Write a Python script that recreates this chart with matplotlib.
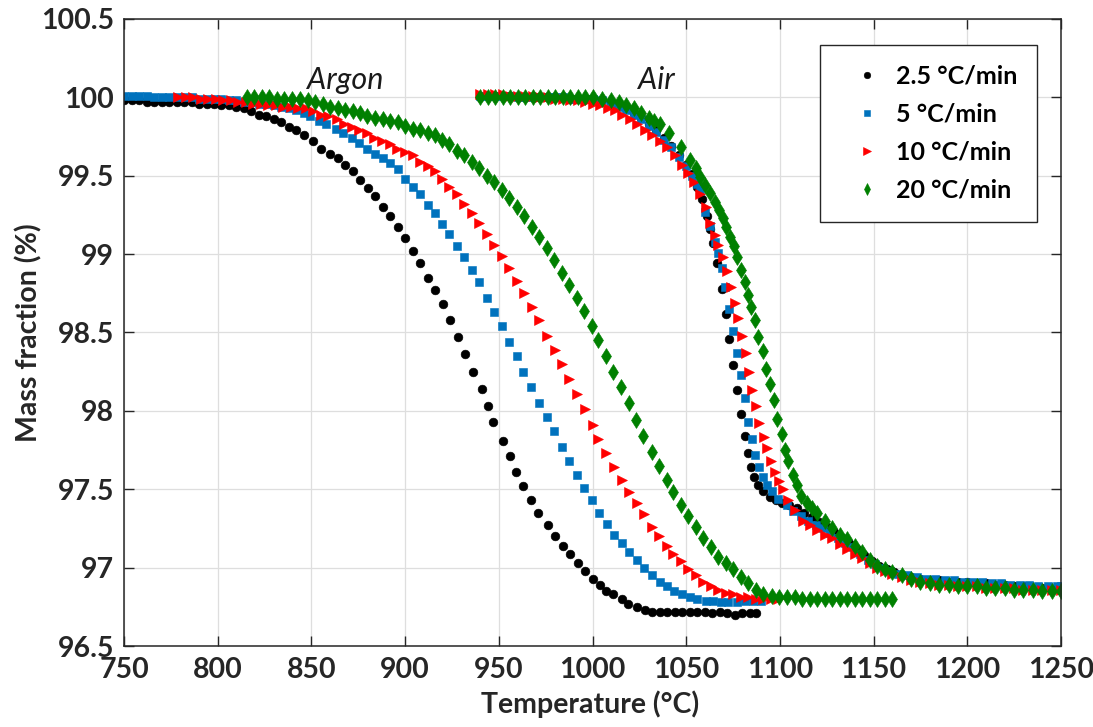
#============================================================
# PLOT.PY       -- TGA mass fraction, argon vs. air
#============================================================

import matplotlib
matplotlib.use('Agg')
import matplotlib.pyplot as plt

plt.rcParams['font.family'] = ['Lato', 'DejaVu Sans']

#------------------------------------------------------------
# Argon runs (temperature degC, mass fraction %)
ar_t_25 = [750, 754, 758, 762, 766, 770, 774, 778, 782, 786, 790, 794, 798, 802, 806,
           810, 814, 818, 822, 826, 830, 834, 838, 842, 846, 851, 855, 860, 864, 868,
           872, 876, 880, 884, 888, 892, 896, 900, 904, 908, 912, 916, 920, 924, 928,
           932, 936, 941, 944, 947, 952, 956, 959, 963, 967, 971, 976, 980, 984, 988,
           992, 996, 1000, 1004, 1007, 1011, 1016, 1019, 1024, 1028, 1032, 1036, 1040,
           1044, 1048, 1052, 1056, 1060, 1064, 1068, 1072, 1076, 1080, 1084, 1087]
ar_m_25 = [99.98, 99.98, 99.98, 99.97, 99.97, 99.97, 99.97, 99.97, 99.97, 99.97, 99.96,
           99.96, 99.96, 99.95, 99.95, 99.94, 99.93, 99.91, 99.89, 99.88, 99.86, 99.84,
           99.81, 99.79, 99.76, 99.72, 99.67, 99.64, 99.61, 99.57, 99.53, 99.47, 99.42,
           99.37, 99.30, 99.24, 99.17, 99.10, 99.02, 98.94, 98.85, 98.77, 98.68, 98.58,
           98.47, 98.36, 98.25, 98.14, 98.03, 97.93, 97.81, 97.71, 97.61, 97.52, 97.43,
           97.35, 97.27, 97.20, 97.14, 97.09, 97.03, 96.98, 96.93, 96.89, 96.85, 96.83,
           96.80, 96.77, 96.75, 96.73, 96.72, 96.72, 96.72, 96.72, 96.72, 96.72, 96.72,
           96.72, 96.71, 96.72, 96.71, 96.70, 96.71, 96.71, 96.71]

ar_t_5 = [750, 754, 758, 762, 766, 770, 774, 778, 782, 786, 790, 794, 798, 802, 806,
          810, 814, 818, 822, 826, 830, 834, 838, 842, 846, 849, 854, 858, 863, 867,
          871.5, 875.6, 879.5, 884, 888, 892, 896, 900, 904, 908, 912, 916, 919.5, 923.6,
          927.5, 931.4, 935.5, 939.6, 943.5, 947.6, 951.5, 955.6, 959.5, 963, 967, 971.5,
          975.5, 979.5, 983.6, 987.6, 991.6, 995.6, 999.9, 1003.5, 1007.6, 1011.5, 1015.6,
          1019.7, 1023.6, 1027.5, 1031.6, 1036, 1039.6, 1043.7, 1048, 1052, 1056, 1060.4,
          1064.5, 1068.4, 1072.5, 1077, 1081.4, 1085.8, 1090]
ar_m_5 = [100.01, 100.01, 100.01, 100.01, 100.00, 100.00, 100.00, 100.00, 100.00, 100.00,
          99.99, 99.99, 99.99, 99.99, 99.98, 99.98, 99.97, 99.97, 99.96, 99.96, 99.95,
          99.94, 99.93, 99.92, 99.90, 99.88, 99.85, 99.83, 99.80, 99.77, 99.74, 99.71,
          99.67, 99.64, 99.61, 99.58, 99.54, 99.48, 99.43, 99.38, 99.31, 99.26, 99.19,
          99.13, 99.05, 98.98, 98.90, 98.82, 98.72, 98.63, 98.54, 98.44, 98.35, 98.25,
          98.15, 98.05, 97.96, 97.87, 97.77, 97.68, 97.59, 97.51, 97.43, 97.35, 97.28,
          97.21, 97.16, 97.10, 97.05, 97.00, 96.95, 96.91, 96.88, 96.85, 96.83, 96.81,
          96.80, 96.79, 96.79, 96.78, 96.78, 96.78, 96.79, 96.79, 96.79]

ar_t_10 = [779, 783, 787, 791, 795, 799, 803, 807, 811, 815, 819, 823, 827, 831, 835,
           839, 843, 847, 851, 855, 859, 863.5, 867.4, 871.5, 875.6, 879.5, 883.4, 887.5,
           891.9, 895.5, 899.9, 904, 908, 912, 916, 919.5, 923.6, 927.5, 931.4, 935.5,
           939.6, 943.5, 947.6, 951.5, 955.6, 959.5, 963.6, 967.5, 971.6, 975.5, 980,
           983.6, 987.6, 991.9, 996, 1000, 1003, 1007, 1011.5, 1015.6, 1019.7, 1023.6,
           1027.5, 1031.6, 1035.7, 1039.6, 1043, 1047, 1051, 1055, 1059, 1063, 1067, 1071,
           1075, 1079, 1083, 1087, 1091, 1095, 1099]
ar_m_10 = [100.00, 100.00, 100.00, 99.99, 99.99, 99.99, 99.98, 99.98, 99.97, 99.97, 99.96,
           99.96, 99.95, 99.95, 99.94, 99.94, 99.93, 99.93, 99.91, 99.89, 99.88, 99.86,
           99.83, 99.81, 99.79, 99.77, 99.74, 99.72, 99.70, 99.67, 99.65, 99.63, 99.59,
           99.56, 99.53, 99.48, 99.43, 99.38, 99.32, 99.26, 99.20, 99.13, 99.06, 98.99,
           98.91, 98.83, 98.75, 98.66, 98.58, 98.48, 98.39, 98.30, 98.20, 98.11, 98.01,
           97.91, 97.82, 97.73, 97.64, 97.56, 97.48, 97.41, 97.34, 97.26, 97.20, 97.14,
           97.09, 97.04, 96.99, 96.95, 96.91, 96.88, 96.86, 96.84, 96.83, 96.81, 96.81,
           96.80, 96.80, 96.80, 96.80]

ar_t_20 = [815.5, 819.5, 823.5, 827.5, 831.5, 835.5, 839.5, 844, 848, 852, 856, 860, 864,
           868, 872, 876, 879.5, 884, 888, 892, 896, 900, 904, 908, 912, 916, 919.5,
           923.6, 927.5, 931.4, 935.5, 939.6, 943.5, 947.6, 951.5, 955.6, 959.5, 963.6,
           967.5, 971.6, 975.5, 979.4, 983.5, 987.6, 991.5, 995.4, 999.5, 1003.1, 1007.2,
           1011.1, 1015.2, 1019.5, 1023.2, 1027.1, 1031.6, 1035.7, 1039.6, 1043.1, 1047.2,
           1051.1, 1055.1, 1059.1, 1063.1, 1067.2, 1071.2, 1075.2, 1079.3, 1083.2, 1087.2,
           1091.2, 1095.6, 1099.7, 1103.6, 1108, 1112, 1116, 1120, 1124, 1128, 1132, 1136,
           1140, 1144, 1148, 1152, 1156, 1160]
ar_m_20 = [100.00, 100.00, 100.00, 100.00, 99.99, 99.99, 99.99, 99.99, 99.98, 99.97, 99.96,
           99.94, 99.93, 99.92, 99.91, 99.90, 99.88, 99.87, 99.86, 99.85, 99.84, 99.82,
           99.80, 99.79, 99.77, 99.76, 99.73, 99.70, 99.66, 99.63, 99.59, 99.55, 99.50,
           99.46, 99.41, 99.36, 99.30, 99.24, 99.17, 99.11, 99.04, 98.96, 98.88, 98.80,
           98.72, 98.64, 98.54, 98.45, 98.35, 98.25, 98.15, 98.05, 97.94, 97.84, 97.74,
           97.65, 97.56, 97.48, 97.40, 97.33, 97.26, 97.19, 97.13, 97.07, 97.03, 96.99,
           96.94, 96.90, 96.86, 96.83, 96.82, 96.81, 96.81, 96.81, 96.80, 96.80, 96.80,
           96.80, 96.80, 96.80, 96.80, 96.80, 96.80, 96.80, 96.80, 96.80, 96.80]

#------------------------------------------------------------
# Air runs
air_t_25 = [940, 944, 948, 952, 956, 960, 964, 968, 972, 976, 980, 984, 988, 992, 996,
            1000, 1005, 1010, 1014, 1018, 1022, 1026, 1030, 1034, 1038, 1042, 1046, 1050,
            1053, 1056, 1058.3, 1060.9, 1062.7, 1064.5, 1066.6, 1069, 1071.3, 1073,
            1075.2, 1077.3, 1079.2, 1081.4, 1082.8, 1084.4, 1086.2, 1088.5, 1091.2,
            1094.7, 1098, 1101, 1105, 1109, 1113, 1117, 1121, 1125, 1129, 1133, 1137,
            1141, 1145, 1149, 1153, 1157, 1161, 1165, 1170, 1175, 1180, 1185, 1190, 1195,
            1200, 1205, 1210, 1215, 1220, 1225, 1230, 1235, 1240, 1245, 1250]
air_m_25 = [100.00, 100.01, 100.01, 100.01, 100.01, 100.00, 100.00, 100.00, 100.00, 100.00,
            100.00, 100.00, 99.99, 99.99, 99.99, 99.99, 99.98, 99.97, 99.95, 99.93, 99.90,
            99.87, 99.83, 99.79, 99.74, 99.69, 99.63, 99.57, 99.51, 99.43, 99.35, 99.24,
            99.16, 99.07, 98.94, 98.78, 98.62, 98.46, 98.29, 98.13, 97.98, 97.84, 97.73,
            97.64, 97.58, 97.53, 97.49, 97.45, 97.43, 97.41, 97.40, 97.38, 97.35, 97.32,
            97.29, 97.26, 97.23, 97.19, 97.16, 97.12, 97.08, 97.04, 97.01, 96.99, 96.97,
            96.95, 96.94, 96.93, 96.92, 96.92, 96.91, 96.91, 96.91, 96.90, 96.90, 96.89,
            96.89, 96.88, 96.88, 96.87, 96.87, 96.86, 96.86]

air_t_5 = [940, 944, 948, 952, 956, 960, 964, 968, 972, 976, 980, 984, 988, 992, 996,
           1000, 1005, 1010, 1014, 1018, 1022, 1026, 1030, 1034, 1038, 1042, 1046, 1050,
           1053, 1055.5, 1057.4, 1060.1, 1062.7, 1065.4, 1067.2, 1069, 1070.7, 1072.9,
           1075, 1077.3, 1079.1, 1081.4, 1083.2, 1084.9, 1086.7, 1089, 1091.2, 1092.9,
           1095.6, 1099.2, 1103.6, 1107, 1111, 1115, 1119, 1123, 1127, 1131, 1135, 1139,
           1143, 1147, 1151, 1155, 1159, 1163, 1168, 1173, 1178, 1183, 1188, 1193, 1198,
           1203, 1208, 1213, 1218, 1223, 1228, 1233, 1238, 1243, 1248, 1250]
air_m_5 = [100.01, 100.01, 100.01, 100.01, 100.01, 100.00, 100.00, 100.00, 100.00, 100.00,
           100.00, 100.00, 99.99, 99.99, 99.99, 99.99, 99.98, 99.96, 99.94, 99.92, 99.89,
           99.86, 99.82, 99.78, 99.73, 99.68, 99.62, 99.56, 99.50, 99.45, 99.40, 99.27,
           99.18, 99.08, 99.01, 98.91, 98.79, 98.65, 98.51, 98.37, 98.23, 98.08, 97.93,
           97.82, 97.72, 97.64, 97.58, 97.53, 97.49, 97.44, 97.40, 97.36, 97.33, 97.30,
           97.27, 97.25, 97.22, 97.19, 97.16, 97.13, 97.09, 97.05, 97.02, 97.00, 96.98,
           96.96, 96.95, 96.94, 96.93, 96.93, 96.92, 96.92, 96.91, 96.91, 96.91, 96.90,
           96.90, 96.89, 96.89, 96.89, 96.88, 96.88, 96.88, 96.88]

air_t_10 = [940, 944, 948, 952, 956, 960, 964, 968, 972, 976, 980, 984, 988, 992, 996,
            1000, 1004, 1008, 1012, 1016, 1020, 1024, 1028, 1032, 1036, 1040, 1044, 1048,
            1051, 1054, 1057.4, 1060.6, 1062.7, 1065.4, 1067.2, 1069.8, 1071.6, 1073.9,
            1076.1, 1077.8, 1080, 1081.9, 1083.5, 1084.9, 1087.3, 1089, 1091.5, 1093.3,
            1095.1, 1097.4, 1099.7, 1101.8, 1104.5, 1108.1, 1112.5, 1116, 1120, 1124,
            1128, 1132, 1136, 1140, 1144, 1148, 1152, 1156, 1160, 1165, 1170, 1175, 1180,
            1185, 1190, 1195, 1200, 1205, 1210, 1215, 1220, 1225, 1230, 1235, 1240, 1245,
            1250]
air_m_10 = [100.02, 100.02, 100.02, 100.02, 100.01, 100.01, 100.01, 100.01, 100.00, 100.00,
            99.99, 99.99, 99.98, 99.98, 99.97, 99.96, 99.95, 99.93, 99.92, 99.89, 99.86,
            99.83, 99.79, 99.76, 99.72, 99.68, 99.63, 99.57, 99.52, 99.46, 99.38, 99.30,
            99.20, 99.12, 99.06, 98.98, 98.89, 98.79, 98.69, 98.59, 98.48, 98.37, 98.25,
            98.13, 98.03, 97.92, 97.83, 97.76, 97.68, 97.61, 97.55, 97.50, 97.43, 97.37,
            97.30, 97.27, 97.24, 97.21, 97.19, 97.15, 97.12, 97.09, 97.06, 97.03, 97.00,
            96.98, 96.96, 96.94, 96.92, 96.91, 96.90, 96.89, 96.89, 96.88, 96.88, 96.88,
            96.87, 96.87, 96.87, 96.87, 96.86, 96.86, 96.86, 96.86, 96.86]

air_t_20 = [940, 944, 948, 952, 956, 960, 964, 968, 972, 976, 980, 984, 988, 992, 996,
            1000, 1005, 1010, 1014, 1018, 1022, 1026, 1030, 1033, 1036, 1041, 1047, 1052,
            1055, 1057.3, 1060, 1062.7, 1065.3, 1067.7, 1069.4, 1071.2, 1073.4, 1075.5,
            1077.3, 1079.2, 1081.4, 1082.8, 1084.6, 1086.7, 1088.5, 1090.8, 1092.6,
            1094.7, 1096.9, 1098.6, 1100.9, 1102.7, 1104.5, 1106.8, 1109, 1111.1, 1114.3,
            1117, 1120, 1124, 1128, 1132, 1136, 1140, 1144, 1148, 1152, 1156, 1160, 1165,
            1170, 1175, 1180, 1185, 1190, 1195, 1200, 1205, 1210, 1215, 1220, 1225, 1230,
            1235, 1240, 1245, 1250]
air_m_20 = [100.00, 100.00, 100.00, 100.00, 100.00, 100.00, 100.00, 100.00, 100.00, 100.00,
            100.00, 100.00, 100.00, 100.00, 100.00, 100.00, 99.99, 99.98, 99.97, 99.95,
            99.93, 99.90, 99.87, 99.85, 99.83, 99.77, 99.68, 99.60, 99.55, 99.49, 99.44,
            99.39, 99.33, 99.28, 99.23, 99.17, 99.11, 99.05, 98.98, 98.90, 98.82, 98.74,
            98.66, 98.58, 98.47, 98.38, 98.27, 98.17, 98.07, 97.95, 97.85, 97.75, 97.68,
            97.59, 97.53, 97.46, 97.41, 97.38, 97.35, 97.30, 97.25, 97.21, 97.18, 97.14,
            97.10, 97.05, 97.01, 96.99, 96.97, 96.95, 96.93, 96.91, 96.90, 96.89, 96.89,
            96.88, 96.88, 96.88, 96.87, 96.87, 96.87, 96.86, 96.86, 96.86, 96.85, 96.85,
            96.85]

rate_labels = ['2.5 °C/min', '5 °C/min', '10 °C/min', '20 °C/min']
colors = ['#000000', '#0072BD', '#FF0000', '#008000']
markers = ['o', 's', '>', 'd']
msizes = [6.3, 5.8, 7.3, 7.8]

argon = [(ar_t_25, ar_m_25), (ar_t_5, ar_m_5), (ar_t_10, ar_m_10), (ar_t_20, ar_m_20)]
air = [(air_t_25, air_m_25), (air_t_5, air_m_5), (air_t_10, air_m_10), (air_t_20, air_m_20)]

#------------------------------------------------------------
fig = plt.figure(figsize=(10.93, 7.27), dpi=100)
ax = fig.add_axes([0.1135, 0.1114, 0.8572, 0.8626])

dark = '#262626'
handles = []
for i in range(4):
    kw = dict(ls='none', marker=markers[i], ms=msizes[i], mfc=colors[i],
              mec=colors[i], mew=0.4)
    h, = ax.plot(argon[i][0], argon[i][1], label=rate_labels[i], **kw)
    ax.plot(air[i][0], air[i][1], **kw)
    handles.append(h)

ax.set_xlim(750, 1250)
ax.set_ylim(96.5, 100.5)
ax.set_xticks(range(750, 1251, 50))
yt = [96.5, 97, 97.5, 98, 98.5, 99, 99.5, 100, 100.5]
ax.set_yticks(yt)
ax.set_yticklabels(['%g' % v for v in yt])

ax.grid(True, color='#dedede', lw=0.9)
ax.set_axisbelow(True)
for s in ax.spines.values():
    s.set_color(dark)
    s.set_linewidth(1.1)
ax.tick_params(direction='in', length=7, width=1.0, color=dark,
               top=True, right=True, labelsize=20.5, labelcolor=dark)
ax.tick_params(axis='x', pad=8)
ax.tick_params(axis='y', pad=7)
for lb in ax.get_xticklabels() + ax.get_yticklabels():
    lb.set_fontweight('bold')

ax.set_xlabel('Temperature (°C)', fontsize=20.5, fontweight='bold', color=dark)
ax.set_ylabel('Mass fraction (%)', fontsize=20.5, fontweight='bold', color=dark)
ax.xaxis.set_label_coords(0.497, -0.07)
ax.yaxis.set_label_coords(-0.087, 0.5)

ax.text(868, 100.11, 'Argon', fontsize=22, style='italic', color='#1a1a1a',
        ha='center', va='center')
ax.text(1034, 100.11, 'Air', fontsize=22, style='italic', color='#1a1a1a',
        ha='center', va='center')

leg = ax.legend(handles=handles, loc='upper right', bbox_to_anchor=(0.9747, 0.9585),
                borderaxespad=0, fancybox=False, framealpha=1, edgecolor=dark,
                prop={'size': 18, 'weight': 'bold'}, markerscale=0.75,
                handlelength=2.2, handletextpad=0.05, borderpad=0.8, labelspacing=0.6)
leg.get_frame().set_linewidth(1.0)

fig.savefig('out.png', dpi=100)

#------------------------------------------------------------
#        END OF FILE : PLOT.PY
#============================================================
